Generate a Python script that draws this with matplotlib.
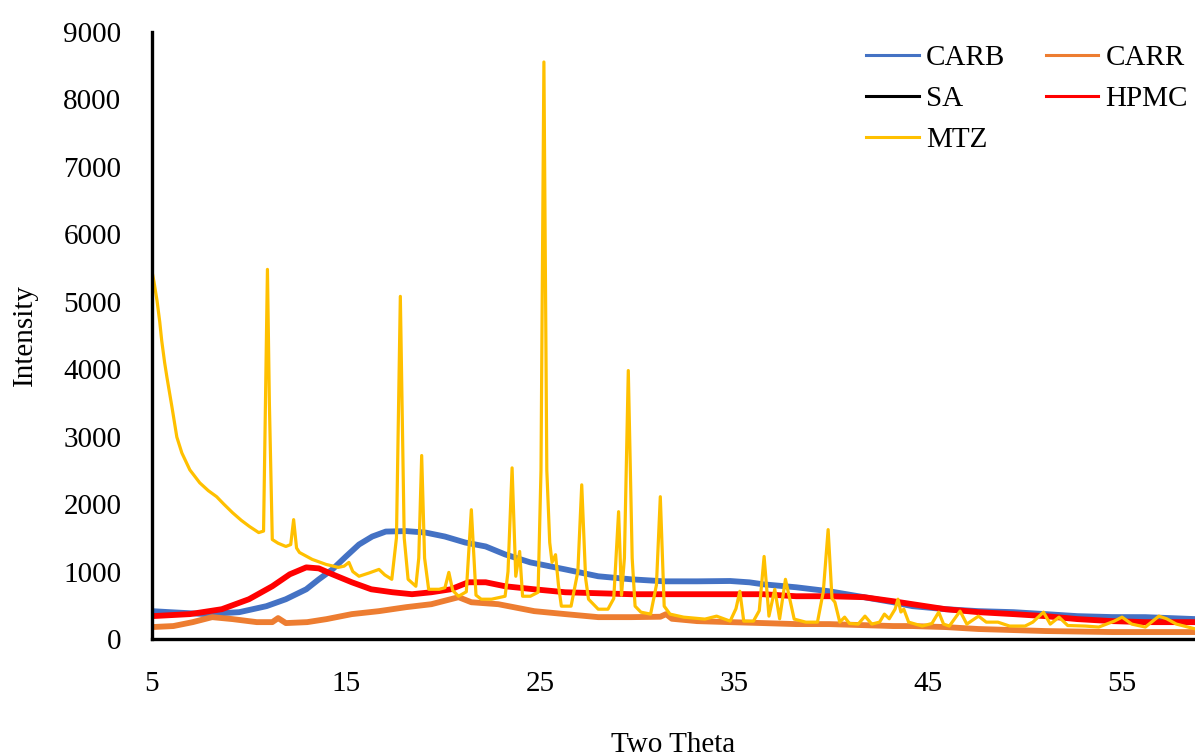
import matplotlib
matplotlib.use("Agg")
import matplotlib.pyplot as plt

plt.rcParams["font.family"] = ["Liberation Serif", "DejaVu Serif"]

# ---- data (two theta, intensity) ----
carb_x = [5.0, 5.9, 7.8, 9.5, 10.9, 11.9, 12.95, 13.6, 14.3, 15.0, 15.67, 16.35,
          17.05, 18.1, 19.1, 20.1, 21.15, 22.2, 23.2, 24.5, 26.3, 28.0, 29.7,
          31.4, 33.1, 34.8, 35.8, 36.5, 38.2, 39.9, 41.7, 43.2, 44.2, 45.9,
          47.6, 49.4, 51.05, 52.7, 54.5, 56.2, 58.8]
carb_y = [413, 398, 369, 398, 487, 590, 737, 885, 1032, 1224, 1401, 1519,
          1593, 1600, 1578, 1519, 1430, 1372, 1254, 1136, 1032, 930, 885,
          855, 855, 860, 840, 811, 767, 708, 620, 545, 487, 442,
          413, 398, 369, 339, 325, 324, 295]

carr_x = [5.0, 6.1, 7.1, 8.1, 9.15, 10.4, 11.2, 11.5, 11.9, 13.0, 14.0, 15.3,
          16.7, 18.1, 19.4, 20.4, 20.8, 21.46, 22.85, 24.7, 26.3, 28.0, 29.7,
          31.2, 31.5, 31.8, 33.1, 34.8, 36.5, 38.2, 39.9, 43.2, 44.2, 45.9,
          47.6, 51.05, 54.5, 58.8]
carr_y = [177, 192, 250, 324, 295, 250, 250, 310, 236, 250, 295, 369,
          413, 472, 516, 590, 620, 545, 516, 413, 369, 324, 324,
          330, 369, 300, 265, 250, 236, 221, 221, 192, 192, 177,
          148, 118, 103, 103]

sa_x = []
sa_y = []

hpmc_x = [5.0, 6.95, 8.6, 10.0, 11.2, 12.1, 12.95, 13.6, 14.3, 15.3, 16.3,
          17.4, 18.4, 19.4, 20.4, 21.3, 22.2, 23.2, 24.7, 26.3, 29.7, 33.1,
          36.5, 38.2, 39.9, 41.7, 43.2, 44.2, 45.9, 47.6, 49.4, 51.05, 52.7,
          54.5, 56.2, 58.8]
hpmc_y = [339, 369, 442, 590, 782, 959, 1062, 1047, 959, 841, 737,
          693, 664, 693, 737, 841, 841, 782, 737, 693, 664, 664,
          664, 634, 634, 620, 560, 516, 442, 398, 369, 339, 295,
          265, 250, 250]

mtz_x = [5.0, 5.1, 5.26, 5.4, 5.5, 5.65, 5.77, 6.03, 6.28, 6.54, 6.95, 7.46,
         7.9, 8.33, 8.7, 9.15, 9.6, 10.03, 10.5, 10.75, 10.85, 10.95, 11.05,
         11.2, 11.5, 11.9, 12.15, 12.3, 12.45, 12.6, 13.26, 13.97, 14.6, 14.9,
         15.15, 15.35, 15.67, 16.2, 16.7, 17.0, 17.36, 17.6, 17.8, 18.0, 18.2,
         18.6, 18.75, 18.9, 19.05, 19.26, 19.8, 20.1, 20.3, 20.5, 20.8, 21.2,
         21.46, 21.7, 21.97, 22.5, 23.2, 23.35, 23.56, 23.75, 23.95, 24.1,
         24.5, 24.9, 25.05, 25.2, 25.35, 25.5, 25.62, 25.8, 25.95, 26.1, 26.6,
         26.95, 27.15, 27.35, 27.5, 28.0, 28.5, 28.8, 29.05, 29.2, 29.35,
         29.55, 29.75, 29.9, 30.2, 30.7, 31.0, 31.2, 31.4, 31.7, 32.4, 33.5,
         34.1, 34.8, 35.1, 35.3, 35.5, 36.0, 36.3, 36.55, 36.8, 37.1, 37.35,
         37.65, 38.1, 38.7, 39.3, 39.6, 39.85, 40.05, 40.2, 40.45, 40.7,
         40.95, 41.4, 41.75, 42.1, 42.5, 42.75, 43.0, 43.3, 43.45, 43.6,
         43.75, 44.0, 44.7, 45.2, 45.55, 45.8, 46.1, 46.65, 47.0, 47.6, 48.0,
         48.6, 49.2, 50.0, 50.4, 50.95, 51.3, 51.75, 52.2, 53.1, 53.8, 54.6,
         55.0, 55.5, 56.2, 56.9, 57.3, 57.8, 58.8]
mtz_y = [5450, 5300, 5015, 4700, 4425, 4100, 3880, 3437, 2994, 2758, 2508, 2316,
         2200, 2110, 2000, 1873, 1760, 1667, 1578, 1600, 3500, 5480, 3500,
         1475, 1420, 1372, 1400, 1770, 1350, 1283, 1180, 1106, 1062, 1080,
         1136, 1000, 930, 980, 1032, 950, 885, 1500, 5080, 1500, 885,
         782, 1200, 2720, 1200, 737, 737, 760, 988, 720, 634, 700,
         1917, 650, 590, 590, 634, 1000, 2537, 930, 1298, 634,
         634, 693, 2500, 8555, 2500, 1430, 1136, 1250, 800, 487, 487,
         1000, 2286, 900, 590, 442, 442, 600, 1888, 650, 1200,
         3980, 1200, 487, 398, 369, 800, 2110, 487, 369, 324, 295,
         339, 265, 450, 708, 265, 265, 420, 1224, 339, 737, 300,
         885, 295, 250, 250, 700, 1622, 600, 545, 250, 324,
         230, 221, 339, 221, 250, 369, 300, 442, 590, 400,
         442, 250, 192, 230, 398, 221, 192, 413, 221, 339, 250,
         250, 192, 192, 250, 398, 221, 324, 200, 192, 177, 265,
         324, 221, 177, 339, 300, 221, 148]

fig = plt.figure(figsize=(11.95, 7.56), dpi=100)
ax = fig.add_axes([152 / 1195, 1 - 639 / 756, 1 - 152 / 1195, (639 - 32) / 756])

l_carb, = ax.plot(carb_x, carb_y, color="#4472C4", lw=4.2, label="CARB")
l_carr, = ax.plot(carr_x, carr_y, color="#ED7D31", lw=4.2, label="CARR")
l_sa, = ax.plot(sa_x, sa_y, color="black", lw=4.2, label="SA")
l_hpmc, = ax.plot(hpmc_x, hpmc_y, color="#FF0000", lw=4.2, label="HPMC")
l_mtz, = ax.plot(mtz_x, mtz_y, color="#FFC000", lw=2.3, label="MTZ")

ax.set_xlim(5, 58.76)
ax.set_ylim(0, 9000)
ax.set_xticks([5, 15, 25, 35, 45, 55])
ax.set_yticks(range(0, 9001, 1000))
ax.tick_params(axis="both", length=0, labelsize=21)
ax.tick_params(axis="x", pad=23)
ax.tick_params(axis="y", pad=22)

for s in ["top", "right"]:
    ax.spines[s].set_visible(False)
for s in ["left", "bottom"]:
    ax.spines[s].set_linewidth(2.4)
    ax.spines[s].set_color("black")

ax.set_xlabel("Two Theta", fontsize=21)
ax.xaxis.set_label_coords(0.4995, -(732 - 639) / 607)
ax.set_ylabel("Intensity", fontsize=21, labelpad=18)

# row-wise legend order like the original (matplotlib fills columns first)
handles = [l_carb, l_sa, l_mtz, l_carr, l_hpmc]
leg = ax.legend(handles=handles, labels=[h.get_label() for h in handles],
                ncol=2, frameon=False, fontsize=21, loc="upper left",
                bbox_to_anchor=(866 / 1195, 1 - 45 / 756),
                bbox_transform=fig.transFigure, borderpad=0, borderaxespad=0,
                handlelength=1.8, handletextpad=0.25, columnspacing=1.4,
                labelspacing=0.5)
for line in leg.get_lines():
    line.set_linewidth(2.2)

fig.savefig("out.png", dpi=100)
